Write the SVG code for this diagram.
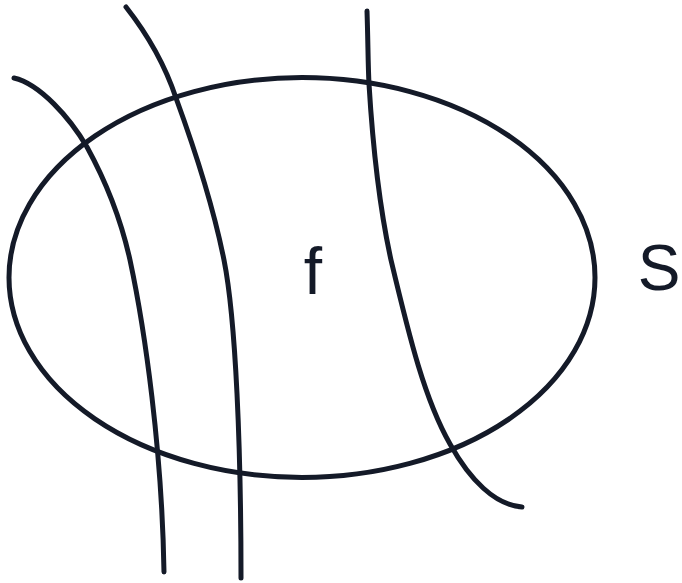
<svg xmlns="http://www.w3.org/2000/svg" width="682" height="583" viewBox="0 0 682 583">
<style>
.ln{fill:none;stroke:#141a28;stroke-width:5;stroke-linecap:round}
.lb{font-family:"Liberation Sans",Arial,sans-serif;fill:#141a28}
</style>
<rect width="682" height="583" fill="#fff"/>
<g id="S">
<ellipse class="ln" cx="302" cy="277.5" rx="293" ry="200"/>
<text class="lb" x="659" y="290" font-size="64" text-anchor="middle">S</text>
</g>
<g id="f">
<text class="lb" x="313" y="294" font-size="66" text-anchor="middle">f</text>
</g>
<g id="connectors">
<path class="ln" d="M14,78 C40,84 70,118 87,147 C104,178 120,215 130,260 C145,330 162,450 164,572"/>
<path class="ln" d="M126,7 C148,35 165,65 176,98 C195,150 213,205 224,260 C236,320 241,450 241,578"/>
<path class="ln" d="M367,11 C368,40 368,65 369,84 C373,150 380,210 391,260 C410,340 425,400 450,444 C470,480 495,505 522,507"/>
</g>
</svg>
